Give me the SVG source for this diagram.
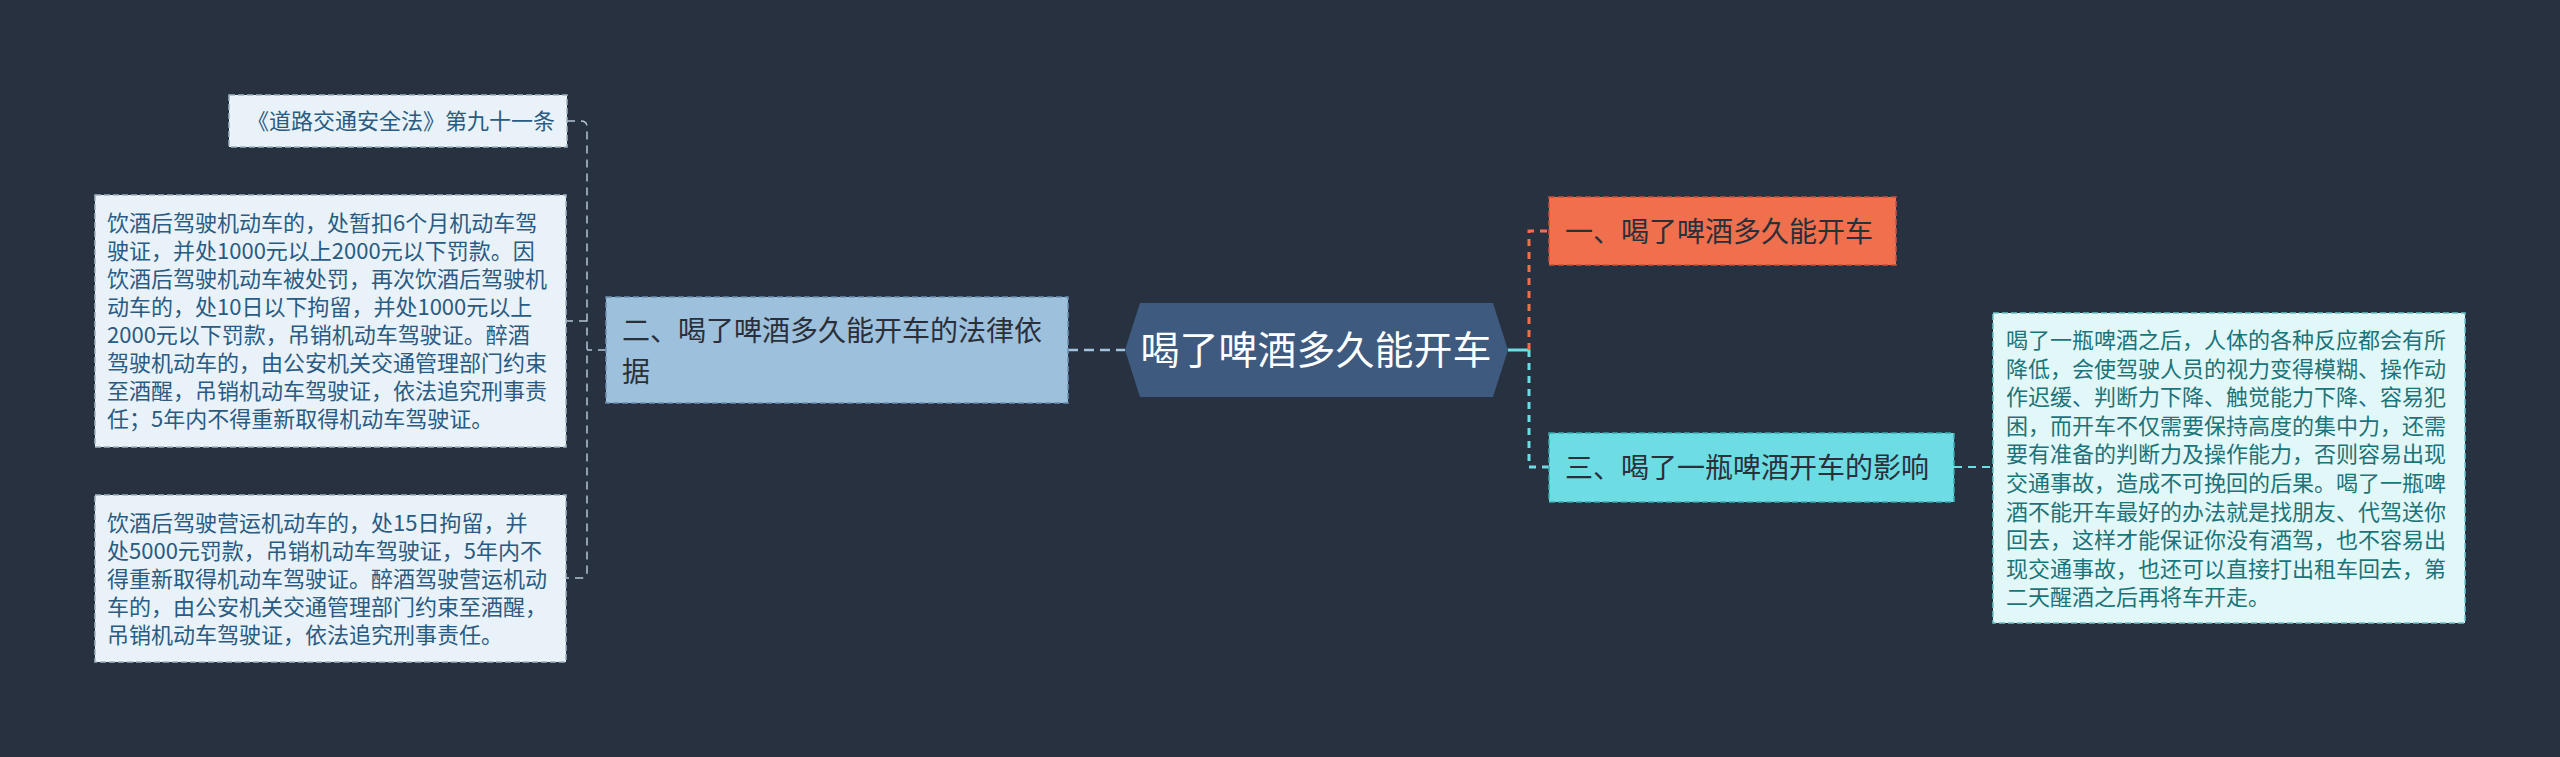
<svg xmlns="http://www.w3.org/2000/svg" width="2560" height="757" viewBox="0 0 2560 757">
<style>
text{font-family:"Noto Sans CJK SC","Noto Sans",sans-serif}
.leaf rect{fill:#e8f2f8;stroke:#9fb3c4;stroke-width:1.5;stroke-dasharray:6 3}
.leaf text{fill:#2a5b82;font-size:22px}
.rleaf rect{fill:#e2f7f8;stroke:#6cc2c8;stroke-width:1.5;stroke-dasharray:6 3}
.rleaf text{fill:#1b7479;font-size:22px}
.br text{fill:#2a2f3a;font-size:28px}
.lc{fill:none;stroke:#b3c5d5;stroke-width:1.5;stroke-dasharray:8 6}
</style>
<rect width="2560" height="757" fill="#283140"/>
<g id="connectors">
<path d="M1068,350 H1125" fill="none" stroke="#9fc2de" stroke-width="2.5" stroke-dasharray="10 6"/>
<path class="lc" d="M567,121 H581 Q587,121 587,127 V572 Q587,578 581,578 H566"/>
<path class="lc" d="M587,321 H566"/>
<path class="lc" d="M606,350 H587"/>
<path d="M1508,350 H1529" fill="none" stroke="#6ddde3" stroke-width="3"/>
<path d="M1529,350 V231 H1549" fill="none" stroke="#f0704e" stroke-width="3" stroke-dasharray="7 6"/>
<path d="M1529,350 V467 H1549" fill="none" stroke="#6ddde3" stroke-width="3" stroke-dasharray="7 6"/>
<path d="M1954,467 H1993" fill="none" stroke="#6ddde3" stroke-width="2" stroke-dasharray="8 6"/>
</g>
<g id="center">
<polygon points="1125,350 1140,303 1493,303 1508,350 1493,397 1140,397" fill="#3e5a7f"/>
<text x="1316" y="364" font-size="39" fill="#ffffff" text-anchor="middle">喝了啤酒多久能开车</text>
</g>
<g id="branch2" class="br">
<rect x="606" y="297" width="462" height="106" fill="#9dc1dc" stroke="#6b8fae" stroke-width="1.5" stroke-dasharray="6 3"/>
<text x="622" y="341">二、喝了啤酒多久能开车的法律依</text>
<text x="622" y="382">据</text>
</g>
<g id="leaf1" class="leaf">
<rect x="229" y="95" width="338" height="52"/>
<text x="247" y="129">《道路交通安全法》第九十一条</text>
</g>
<g id="leaf2" class="leaf">
<rect x="95" y="195" width="471" height="252"/>
<text x="107" y="231">饮酒后驾驶机动车的，处暂扣6个月机动车驾</text>
<text x="107" y="259">驶证，并处1000元以上2000元以下罚款。因</text>
<text x="107" y="287">饮酒后驾驶机动车被处罚，再次饮酒后驾驶机</text>
<text x="107" y="315">动车的，处10日以下拘留，并处1000元以上</text>
<text x="107" y="343">2000元以下罚款，吊销机动车驾驶证。醉酒</text>
<text x="107" y="371">驾驶机动车的，由公安机关交通管理部门约束</text>
<text x="107" y="399">至酒醒，吊销机动车驾驶证，依法追究刑事责</text>
<text x="107" y="427">任；5年内不得重新取得机动车驾驶证。</text>
</g>
<g id="leaf3" class="leaf">
<rect x="95" y="495" width="471" height="167"/>
<text x="107" y="531">饮酒后驾驶营运机动车的，处15日拘留，并</text>
<text x="107" y="559">处5000元罚款，吊销机动车驾驶证，5年内不</text>
<text x="107" y="587">得重新取得机动车驾驶证。醉酒驾驶营运机动</text>
<text x="107" y="615">车的，由公安机关交通管理部门约束至酒醒，</text>
<text x="107" y="643">吊销机动车驾驶证，依法追究刑事责任。</text>
</g>
<g id="branch1" class="br">
<rect x="1549" y="197" width="347" height="68" fill="#f0704e" stroke="#c4523a" stroke-width="1.5" stroke-dasharray="6 3"/>
<text x="1565" y="242">一、喝了啤酒多久能开车</text>
</g>
<g id="branch3" class="br">
<rect x="1549" y="433" width="405" height="69" fill="#6ddde3" stroke="#3aa9b0" stroke-width="1.5" stroke-dasharray="6 3"/>
<text x="1565" y="478">三、喝了一瓶啤酒开车的影响</text>
</g>
<g id="leaf4" class="rleaf">
<rect x="1993" y="313" width="472" height="310"/>
<text x="2006" y="348">喝了一瓶啤酒之后，人体的各种反应都会有所</text>
<text x="2006" y="376.6">降低，会使驾驶人员的视力变得模糊、操作动</text>
<text x="2006" y="405.2">作迟缓、判断力下降、触觉能力下降、容易犯</text>
<text x="2006" y="433.8">困，而开车不仅需要保持高度的集中力，还需</text>
<text x="2006" y="462.4">要有准备的判断力及操作能力，否则容易出现</text>
<text x="2006" y="491">交通事故，造成不可挽回的后果。喝了一瓶啤</text>
<text x="2006" y="519.6">酒不能开车最好的办法就是找朋友、代驾送你</text>
<text x="2006" y="548.2">回去，这样才能保证你没有酒驾，也不容易出</text>
<text x="2006" y="576.8">现交通事故，也还可以直接打出租车回去，第</text>
<text x="2006" y="605.4">二天醒酒之后再将车开走。</text>
</g>
</svg>
